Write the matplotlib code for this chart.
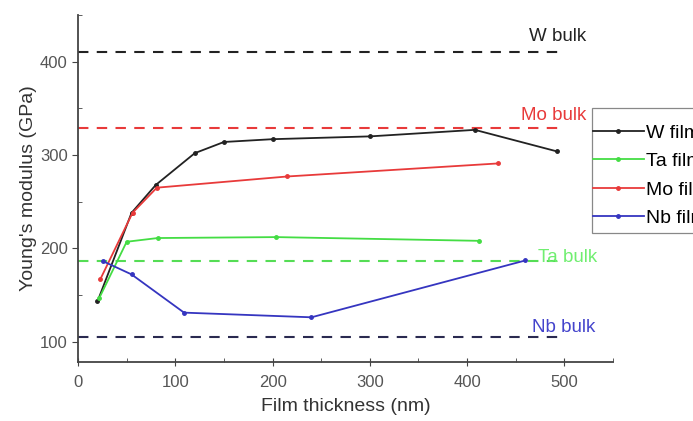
import numpy as np
import matplotlib.pyplot as plt
from matplotlib.ticker import MultipleLocator
from matplotlib.patches import Rectangle

plt.rcParams['font.family'] = ['Liberation Sans', 'DejaVu Sans']

# данные плёнок (толщина, нм / модуль Юнга, ГПа)
w_x = [20, 55, 80, 120, 150, 200, 300, 408, 492]
w_y = [143, 238, 268, 302, 314, 317, 320, 327, 304]

ta_x = [22, 50, 82, 204, 412]
ta_y = [147, 207, 211, 212, 208]

mo_x = [23, 56, 81, 215, 432]
mo_y = [167, 238, 265, 277, 291]

nb_x = [26, 55, 109, 240, 460]
nb_y = [186, 172, 131, 126, 187]

# объёмные значения
bulk_names = ['W bulk', 'Mo bulk', 'Ta bulk', 'Nb bulk']
bulk_vals = [411, 329, 186, 105]
bulk_colors = ['#222222', '#e83a3a', '#55dd55', '#2a2a50']
bulk_text_colors = ['#222222', '#e83a3a', '#70ee70', '#4444cc']
bulk_text_pos = [(493, 427), (489, 342), (503, 190), (499, 115)]

fig = plt.figure(figsize=(6.93, 4.21), dpi=100)
ax = fig.add_axes([0.1126, 0.140, 0.772, 0.824])

for val, col in zip(bulk_vals, bulk_colors):
    ax.hlines(val, 0, 500, colors=col, linestyles=(0, (5, 4)), linewidth=1.5)
for name, (tx, ty), col in zip(bulk_names, bulk_text_pos, bulk_text_colors):
    ax.text(tx, ty, name, color=col, fontsize=13.5, ha='center', va='center')

kw = dict(marker='o', markersize=2.5, linewidth=1.3)
ax.plot(w_x, w_y, color='#222222', label='W film', **kw)
ax.plot(ta_x, ta_y, color='#44dd44', label='Ta film', **kw)
ax.plot(mo_x, mo_y, color='#e83a3a', label='Mo film', **kw)
ax.plot(nb_x, nb_y, color='#3535c0', label='Nb film', **kw)

ax.set_xlim(0, 550)
ax.set_ylim(78, 450)
ax.xaxis.set_major_locator(MultipleLocator(100))
ax.xaxis.set_minor_locator(MultipleLocator(50))
ax.yaxis.set_major_locator(MultipleLocator(100))
ax.yaxis.set_minor_locator(MultipleLocator(50))
ax.spines['top'].set_visible(False)
ax.spines['right'].set_visible(False)
for s in ['left', 'bottom']:
    ax.spines[s].set_color('#444444')
    ax.spines[s].set_linewidth(1.3)
ax.tick_params(which='both', colors='#444444', labelsize=12, labelcolor='#555555')
ax.tick_params(axis='x', which='major', direction='inout', length=6, pad=6)
ax.tick_params(axis='y', which='major', direction='out', length=4)
ax.tick_params(which='minor', direction='in', length=3)

ax.set_xlabel("Film thickness (nm)", fontsize=14, color='#333333', labelpad=6)
ax.set_ylabel("Young's modulus (GPa)", fontsize=14, color='#333333', labelpad=2)

# рамка легенды, обрезанная краем рисунка
frame = Rectangle((592 / 693, 1 - 233 / 421), 0.2, 125 / 421, transform=fig.transFigure,
                  facecolor='white', edgecolor='#888888', linewidth=0.9, zorder=4)
fig.add_artist(frame)
leg = fig.legend(*ax.get_legend_handles_labels(), loc='upper left',
                 bbox_to_anchor=(593 / 693, 1 - 124 / 421), fontsize=14, frameon=False,
                 handlelength=2.6, borderpad=0, borderaxespad=0,
                 labelspacing=0.56, handletextpad=0.1)
leg.set_zorder(5)

fig.savefig('out.png', dpi=100)
